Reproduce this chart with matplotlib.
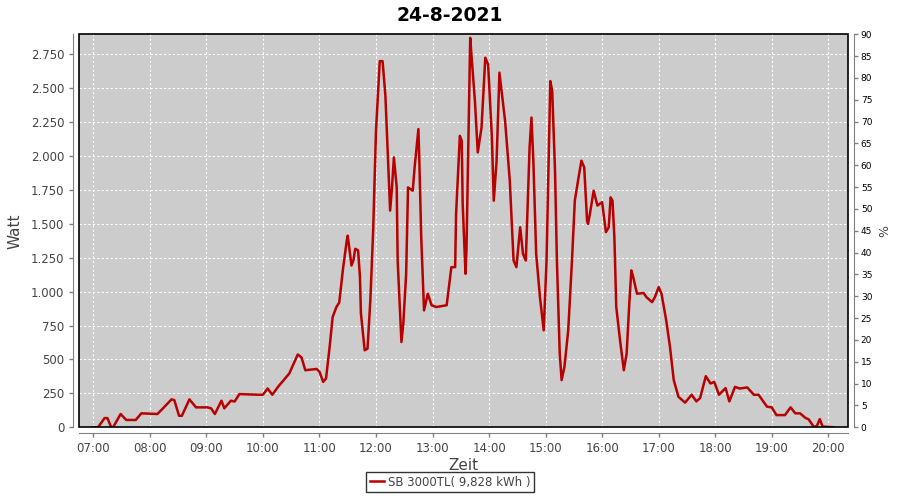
import matplotlib
matplotlib.use('Agg')
import matplotlib.pyplot as plt
from matplotlib.patches import Rectangle
from matplotlib.ticker import FuncFormatter, MultipleLocator

# power readings (time of day, watt)
times = ['06:59', '07:05', '07:12', '07:15', '07:19', '07:21', '07:29', '07:35', '07:45', '07:51',
         '08:08', '08:14', '08:23', '08:26', '08:31', '08:34', '08:42', '08:49', '09:01', '09:05',
         '09:09', '09:16', '09:19', '09:26', '09:30', '09:35', '09:56', '10:00', '10:05', '10:10',
         '10:16', '10:28', '10:37', '10:41', '10:45', '10:57', '11:00', '11:04', '11:07', '11:11',
         '11:14', '11:18', '11:21', '11:25', '11:29', '11:30', '11:34', '11:36', '11:38', '11:41',
         '11:43', '11:44', '11:48', '11:51', '11:54', '11:57', '12:00', '12:04', '12:07', '12:10',
         '12:13', '12:15', '12:17', '12:19', '12:22', '12:23', '12:27', '12:29', '12:32', '12:34',
         '12:39', '12:41', '12:45', '12:46', '12:48', '12:51', '12:55', '12:59', '13:04', '13:15',
         '13:20', '13:24', '13:25', '13:29', '13:31', '13:32', '13:35', '13:36', '13:40', '13:41',
         '13:45', '13:48', '13:52', '13:56', '13:59', '14:03', '14:05', '14:08', '14:11', '14:17',
         '14:22', '14:26', '14:29', '14:33', '14:36', '14:39', '14:43', '14:45', '14:47', '14:50',
         '14:54', '14:58', '15:01', '15:05', '15:07', '15:10', '15:12', '15:15', '15:17', '15:20',
         '15:24', '15:28', '15:31', '15:35', '15:38', '15:41', '15:44', '15:45', '15:47', '15:51',
         '15:55', '16:00', '16:04', '16:07', '16:09', '16:11', '16:13', '16:15', '16:19', '16:23',
         '16:26', '16:29', '16:31', '16:33', '16:37', '16:44', '16:47', '16:53', '16:56', '17:00',
         '17:03', '17:08', '17:12', '17:16', '17:21', '17:28', '17:35', '17:40', '17:44', '17:50',
         '17:55', '17:59', '18:04', '18:11', '18:15', '18:21', '18:26', '18:34', '18:41', '18:46',
         '18:55', '19:00', '19:05', '19:14', '19:20', '19:25', '19:30', '19:36', '19:39', '19:45',
         '19:48', '19:51', '19:54', '20:06']
watt = [0, 0, 68, 68, 0, 0, 98, 54, 54, 103,
        98, 140, 206, 200, 85, 85, 206, 147, 147, 140,
        98, 196, 140, 196, 190, 245, 240, 240, 286, 240,
        298, 397, 537, 515, 421, 430, 410, 335, 360, 605,
        813, 887, 920, 1169, 1377, 1413, 1193, 1230, 1316, 1305,
        1107, 840, 568, 580, 936, 1450, 2186, 2700, 2700, 2443,
        1941, 1598, 1770, 1990, 1770, 1230, 629, 765, 1132, 1769,
        1745, 1917, 2199, 1966, 1401, 862, 985, 900, 887, 900,
        1181, 1181, 1573, 2149, 2113, 1647, 1132, 1305, 2872, 2774,
        2406, 2027, 2211, 2725, 2676, 2137, 1671, 1966, 2615, 2260,
        1818, 1230, 1181, 1475, 1279, 1230, 2063, 2284, 1966, 1279,
        960, 715, 1230, 2553, 2480, 1892, 1230, 544, 348, 446,
        715, 1230, 1671, 1843, 1966, 1917, 1524, 1500, 1573, 1745,
        1635, 1660, 1439, 1475, 1696, 1671, 1401, 887, 642, 421,
        544, 936, 1157, 1107, 985, 990, 960, 923, 960, 1034,
        985, 789, 593, 348, 225, 182, 240, 191, 216, 377,
        323, 335, 240, 289, 191, 298, 286, 294, 240, 240,
        152, 147, 90, 90, 147, 103, 103, 68, 60, 0,
        12, 60, 5, 0]
hour_ticks = list(range(7, 21))
pct_ticks = list(range(0, 95, 5))
title = '24-8-2021'
legend_label = 'SB 3000TL( 9,828 kWh )'

hours = [int(t[:2]) + int(t[3:]) / 60 for t in times]

fig = plt.figure(figsize=(9, 5), dpi=100)
ax = fig.add_axes([79 / 900, 1 - 427.3 / 500, (848.3 - 79) / 900, (427.3 - 34.3) / 500])
ax.set_facecolor('#cccccc')

line, = ax.plot(hours, watt, color='#b80000', lw=1.8, label=legend_label)

ax.set_xlim(6.747, 20.354)
ax.set_ylim(0, 2898)
ax.set_xticks(hour_ticks)
ax.xaxis.set_major_formatter(FuncFormatter(lambda v, p: f'{int(round(v)):02d}:00'))
ax.yaxis.set_major_locator(MultipleLocator(250))
ax.yaxis.set_major_formatter(FuncFormatter(lambda v, p: f'{v:,.0f}'.replace(',', '.')))
ax.grid(True, color='white', lw=0.8, ls=(0, (2, 2)))

grey = '#808080'
for side in ['top', 'right']:
    ax.spines[side].set_visible(False)
for side in ['left', 'bottom']:
    ax.spines[side].set_position(('outward', 4))
    ax.spines[side].set_color(grey)
ax.tick_params(axis='both', colors=grey, labelcolor='#444444', labelsize=8.5, length=3, width=1)
ax.add_patch(Rectangle((0, 0), 1, 1, transform=ax.transAxes, fill=False,
                       edgecolor='black', lw=1.2, clip_on=False, zorder=5))

ax.set_xlabel('Zeit', fontsize=11, color='#444444', labelpad=2)
ax.set_ylabel('Watt', fontsize=11, color='#444444', labelpad=6)

ax2 = ax.twinx()
ax2.set_ylim(0, 90)
ax2.set_yticks(pct_ticks)
for side in ['top', 'left', 'bottom']:
    ax2.spines[side].set_visible(False)
ax2.spines['right'].set_position(('outward', 4))
ax2.spines['right'].set_color(grey)
ax2.tick_params(axis='y', colors=grey, labelcolor='black', labelsize=6.5, length=3, width=1, pad=2)
ax2.set_ylabel('%', fontsize=9, color='#444444', labelpad=4)

fig.suptitle(title, fontsize=13.5, fontweight='bold', y=0.988, va='top')

leg = fig.legend(handles=[line], loc='lower center', bbox_to_anchor=(0.5, 0.004), ncol=1,
                 fontsize=8.5, frameon=True, fancybox=False, handlelength=1.2,
                 handletextpad=0.3, borderpad=0.3, labelcolor='#444444')
leg.get_frame().set_edgecolor('black')
leg.get_frame().set_linewidth(1)

fig.savefig('out.png', dpi=100)
